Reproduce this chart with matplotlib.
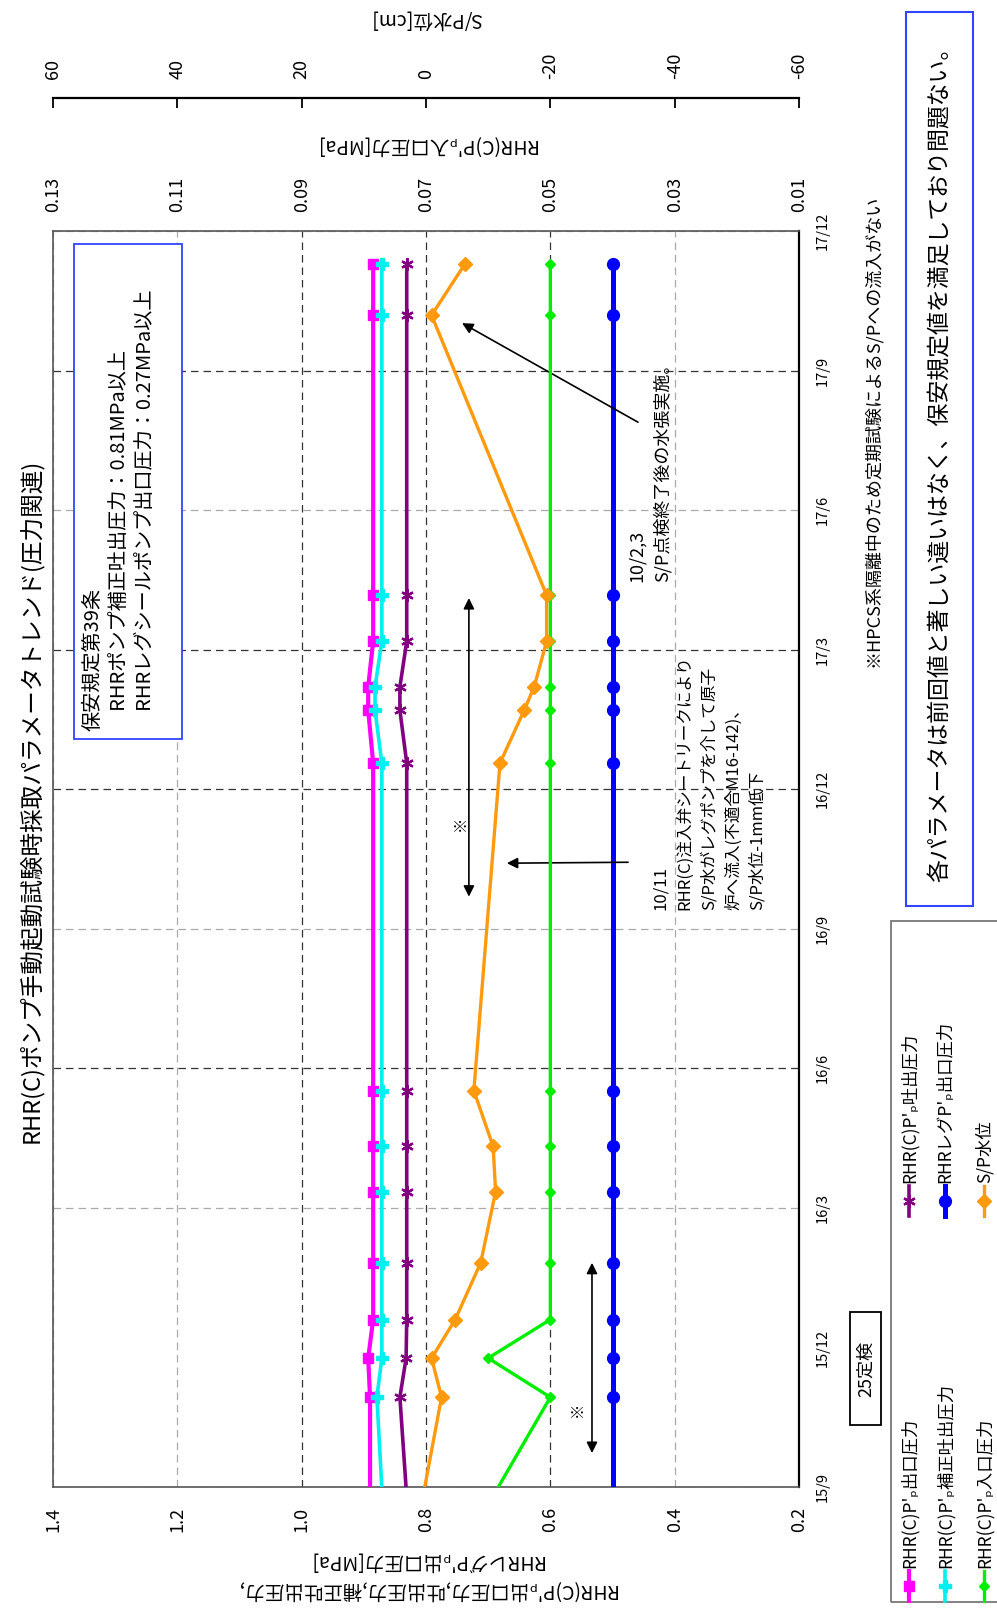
import matplotlib

matplotlib.use("Agg")

import matplotlib.pyplot as plt  # noqa: E402
from matplotlib.lines import Line2D  # noqa: E402
from matplotlib.patches import Rectangle  # noqa: E402

plt.rcParams["font.family"] = ["Noto Sans CJK JP", "DejaVu Sans"]

# months counted from 2015/9; the first sample lies before the axis start
months = [-1.0, 1.93, 2.77, 3.60, 4.82, 6.35, 7.32, 8.52,
          15.56, 16.70, 17.20, 18.18, 19.17, 25.19, 26.30]
outlet_pressure = [0.890, 0.890, 0.893, 0.885, 0.885, 0.885, 0.885, 0.885,
                   0.885, 0.893, 0.893, 0.885, 0.885, 0.885, 0.885]
corrected_discharge = [0.867, 0.879, 0.871, 0.871, 0.871, 0.871, 0.871, 0.871,
                       0.871, 0.882, 0.882, 0.871, 0.871, 0.871, 0.871]
discharge_pressure = [0.827, 0.842, 0.832, 0.831, 0.831, 0.831, 0.831, 0.831,
                      0.831, 0.842, 0.842, 0.831, 0.831, 0.831, 0.831]
leg_outlet_pressure = [0.50] * 15
inlet_pressure = [0.0627, 0.050, 0.060, 0.050, 0.050, 0.050, 0.050, 0.050,
                  0.050, 0.050, 0.050, 0.050, 0.050, 0.050, 0.050]
sp_level = [1.6, -2.5, -0.9, -4.7, -8.8, -11.2, -10.8, -7.7,
            -11.9, -15.8, -17.4, -19.4, -19.4, -0.9, -6.3]

series_names = [
    "RHR(C)P'ₚ出口圧力",
    "RHR(C)P'ₚ吐出圧力",
    "RHR(C)P'ₚ補正吐出圧力",
    "RHRレグP'ₚ出口圧力",
    "RHR(C)P'ₚ入口圧力",
    "S/P水位",
]

date_ticks = [0, 3, 6, 9, 12, 15, 18, 21, 24, 27]
date_labels = ["15/9", "15/12", "16/3", "16/6", "16/9", "16/12",
               "17/3", "17/6", "17/9", "17/12"]
pressure_ticks = [1.4, 1.2, 1.0, 0.8, 0.6, 0.4, 0.2]
pressure_labels = ["1.4", "1.2", "1.0", "0.8", "0.6", "0.4", "0.2"]
inlet_ticks = [0.13, 0.11, 0.09, 0.07, 0.05, 0.03, 0.01]
inlet_labels = ["0.13", "0.11", "0.09", "0.07", "0.05", "0.03", "0.01"]
level_ticks = [60, 40, 20, 0, -20, -40, -60]
level_labels = ["60", "40", "20", "0", "-20", "-40", "-60"]

W, H = 997, 1610


def fx(px):
    return px / W


def fy(py):
    return 1 - py / H


styles = {
    "outlet": dict(color="#FF00FF", lw=3, marker="s", ms=7.5),
    "discharge": dict(color="#800080", lw=2.6, marker=(6, 2, 0), ms=9, mew=1.6),
    "corrected": dict(color="#00F0F0", lw=2.6, marker="P", ms=8.5),
    "leg": dict(color="#0000FF", lw=3.6, marker="o", ms=8.5),
    "inlet": dict(color="#00EE00", lw=2.4, marker="D", ms=5.5),
    "level": dict(color="#FF9A0E", lw=2.4, marker="D", ms=7),
}

fig = plt.figure(figsize=(W / 100, H / 100), dpi=100)
ax = fig.add_axes([fx(53), fy(1487), (799 - 53) / W, (1487 - 231) / H])
ax2 = ax.twiny()
ax3 = ax.twiny()

# main axis: pressure (MPa), drawn rotated so the dates run upward
ax.set_xlim(1.4, 0.2)
ax.set_ylim(0, 27)
ax.set_xticks(pressure_ticks)
ax.set_xticklabels(pressure_labels)
ax.set_yticks(date_ticks)
ax.set_yticklabels(date_labels)
ax.yaxis.tick_right()
ax.tick_params(axis="x", length=0, pad=14, labelrotation=90, labelsize=13)
ax.tick_params(axis="y", length=0, pad=12, labelrotation=90, labelsize=10.5)
for label in ax.get_yticklabels():
    label.set_va("center")
ax.grid(True, linestyle=(0, (6, 4)), color="#AAAAAA", linewidth=0.9)
ax.set_axisbelow(True)
for val, line in zip(pressure_ticks, ax.get_xgridlines()):
    if round(val, 1) in (1.0, 0.8, 0.6):
        line.set_color("#333333")
for val, line in zip(date_ticks, ax.get_ygridlines()):
    if val in (9, 15, 18, 24):
        line.set_color("#333333")
    elif val == 3:
        line.set_visible(False)
for name, spine in ax.spines.items():
    spine.set_color("#555555")
    spine.set_linewidth(1.2)
ax.spines["right"].set_color("black")
ax.spines["right"].set_linewidth(1.6)

ax.plot(outlet_pressure, months, zorder=3, **styles["outlet"])
ax.plot(corrected_discharge, months, zorder=4, **styles["corrected"])
ax.plot(discharge_pressure, months, zorder=3, **styles["discharge"])
ax.plot(leg_outlet_pressure, months, zorder=3, **styles["leg"])

# inlet pressure axis
ax2.set_xlim(0.13, 0.01)
ax2.set_xticks(inlet_ticks)
ax2.set_xticklabels(inlet_labels)
ax2.tick_params(axis="x", length=0, pad=14, labelrotation=90, labelsize=13)
for spine in ax2.spines.values():
    spine.set_visible(False)
ax2.plot(inlet_pressure, months, zorder=3, **styles["inlet"])
ax2.set_xlabel("RHR(C)P'ₚ入口圧力[MPa]", rotation=180, fontsize=14, va="center")
ax2.xaxis.set_label_coords(0.5, (1487 - 144) / 1256)

# suppression pool level axis
ax3.set_xlim(60, -60)
ax3.set_xticks(level_ticks)
ax3.set_xticklabels(level_labels)
for name, spine in ax3.spines.items():
    spine.set_visible(name == "top")
ax3.spines["top"].set_position(("outward", (231 - 98) * 0.72))
ax3.spines["top"].set_linewidth(1.6)
ax3.spines["top"].set_color("black")
ax3.tick_params(axis="x", direction="in", length=7, width=1.3, pad=14,
                labelrotation=90, labelsize=13)
ax3.plot(sp_level, months, zorder=3, **styles["level"])
ax3.set_xlabel("S/P水位[cm]", rotation=180, fontsize=14, va="center")
ax3.xaxis.set_label_coords(0.5, (1487 - 19) / 1256)

# annotations
arrow = dict(color="black", lw=1.2, mutation_scale=16, shrinkA=0, shrinkB=0)
ax.annotate("", xy=(0.533, 0.73), xytext=(0.533, 4.82),
            arrowprops=dict(arrowstyle="<|-|>", **arrow))
ax.text(0.557, 1.66, "※", rotation=90, ha="center", va="center", fontsize=11)
ax.annotate("", xy=(0.731, 12.69), xytext=(0.731, 19.11),
            arrowprops=dict(arrowstyle="<|-|>", **arrow))
ax.text(0.745, 14.27, "※", rotation=90, ha="center", va="center", fontsize=11)
ax.annotate("", xy=(0.670, 13.41), xytext=(0.475, 13.43),
            arrowprops=dict(arrowstyle="-|>", **arrow))
ax.annotate("", xy=(0.742, 25.02), xytext=(0.459, 22.89),
            arrowprops=dict(arrowstyle="-|>", **arrow))

ax.text(0.4365, 12.40,
        "10/11\nRHR(C)注入弁シートリークにより\nS/P水がレグポンプを介して原子\n"
        "炉へ流入(不適合M16-142)、\nS/P水位-1mm低下",
        rotation=90, ha="left", va="bottom", multialignment="left",
        fontsize=12, linespacing=1.55)
ax.text(0.475, 19.45, "10/2,3\nS/P点検終了後の水張実施。",
        rotation=90, ha="left", va="bottom", multialignment="left",
        fontsize=13, linespacing=1.5)

ax.add_patch(Rectangle((0.028, 0.5955), 0.145, 0.394, transform=ax.transAxes,
                       fill=True, facecolor="white", edgecolor="#3344FF",
                       linewidth=1.3, zorder=5))
ax.text(0.0402, 0.602,
        "保安規定第39条\n　RHRポンプ補正吐出圧力：0.81MPa以上\n"
        "　RHRレグシールポンプ出口圧力：0.27MPa以上",
        transform=ax.transAxes, rotation=90, ha="left", va="bottom",
        multialignment="left", fontsize=14.5, linespacing=1.3, zorder=6)

# figure level texts
fig.text(fx(426), fy(1575),
         "RHR(C)P'ₚ出口圧力,吐出圧力,補正吐出圧力,\nRHRレグP'ₚ出口圧力[MPa]",
         rotation=180, ha="center", va="center", fontsize=14, linespacing=1.5)
fig.text(fx(31), fy(801), "RHR(C)ポンプ手動起動試験時採取パラメータトレンド(圧力関連)",
         rotation=90, ha="center", va="center", fontsize=17)
fig.text(fx(873), fy(431), "※HPCS系隔離中のため定期試験によるS/Pへの流入がない",
         rotation=90, ha="center", va="center", fontsize=13)

fig.add_artist(Rectangle((fx(906), fy(906)), (973 - 906) / W, (906 - 12) / H,
                         transform=fig.transFigure, fill=False,
                         edgecolor="#3344FF", linewidth=1.5))
fig.text(fx(940), fy(459),
         "各パラメータは前回値と著しい違いはなく、保安規定値を満足しており問題ない。",
         rotation=90, ha="center", va="center", fontsize=16.5)

fig.add_artist(Rectangle((fx(850), fy(1425)), (881 - 850) / W, (1425 - 1312) / H,
                         transform=fig.transFigure, fill=False,
                         edgecolor="black", linewidth=1.3))
fig.text(fx(865.5), fy(1368.5), "25定検", rotation=90, ha="center",
         va="center", fontsize=13)

# legend, drawn by hand because it is rotated with the chart
fig.add_artist(Rectangle((fx(891), fy(1602)), (1000 - 891) / W, (1602 - 921) / H,
                         transform=fig.transFigure, fill=False,
                         edgecolor="#777777", linewidth=1.3))
legend_order = ["outlet", "discharge", "corrected", "leg", "inlet", "level"]
row_x = [909, 945, 984]
col_marker_y = [1586, 1201]
col_text_y = [1568, 1183]
for i, (key, name) in enumerate(zip(legend_order, series_names)):
    x = row_x[i // 2]
    ym = col_marker_y[i % 2]
    st = styles[key]
    fig.add_artist(Line2D([fx(x), fx(x)], [fy(ym + 15), fy(ym - 15)],
                          transform=fig.transFigure, color=st["color"], lw=st["lw"]))
    fig.add_artist(Line2D([fx(x)], [fy(ym)], transform=fig.transFigure,
                          color=st["color"], marker=st["marker"], ms=st["ms"],
                          mew=st.get("mew", 1), lw=0))
    fig.text(fx(x), fy(col_text_y[i % 2]), name, rotation=90, ha="center",
             va="bottom", fontsize=12.5)

fig.savefig("out.png", dpi=100)
